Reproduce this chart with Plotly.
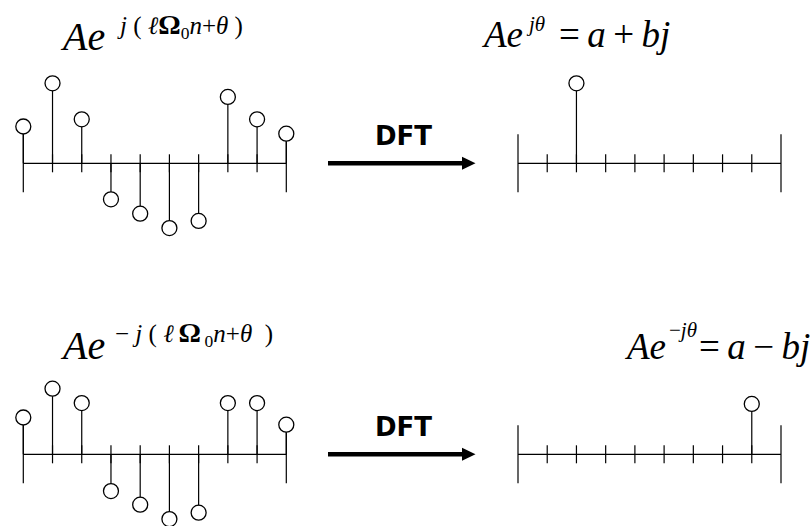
import plotly.graph_objects as go

# ---- data -------------------------------------------------------------
n = list(range(10))
# x[n] = A e^{ j(l*W0*n + theta)}  (real part shown as stems)
x_pos = [0.46, 1.00, 0.55, -0.45, -0.63, -0.81, -0.72, 0.83, 0.55, 0.37]
# x[n] = A e^{-j(l*W0*n + theta)}
x_neg = [0.46, 0.82, 0.64, -0.46, -0.63, -0.81, -0.73, 0.64, 0.64, 0.37]
# DFT results: a single non-zero bin each
X_pos = [0, 0, 1.00, 0, 0, 0, 0, 0, 0, 0]
X_neg = [0, 0, 0, 0, 0, 0, 0, 0, 0.63, 0]

# ---- page geometry (pixels) ------------------------------------------
W, H = 812, 526
STEP = 263 / 9          # px between samples
UNIT = 80               # px per amplitude unit
LEFT_X0, RIGHT_X0 = 23.3, 518.0
TOP_Y0, BOT_Y0 = 163.3, 454.3
TICK_IN, TICK_END = 9, 29  # tick half-lengths in px

def xrange_for(x0):
    return [(0 - x0) / STEP, (W - x0) / STEP]

def yrange_for(y0):
    return [(y0 - H) / UNIT, (y0 - 0) / UNIT]

def px(x):
    return x / W

def py(y):
    return 1 - y / H

fig = go.Figure()

def stem_panel(vals, xa, ya):
    N = len(vals)
    # baseline
    fig.add_trace(go.Scatter(x=[0, N - 1], y=[0, 0], mode="lines",
                             line=dict(color="black", width=1.2),
                             xaxis=xa, yaxis=ya, hoverinfo="skip"))
    # ticks
    tx, ty = [], []
    for i in range(N):
        h = (TICK_END if i in (0, N - 1) else TICK_IN) / UNIT
        tx += [i, i, None]
        ty += [-h, h, None]
    fig.add_trace(go.Scatter(x=tx, y=ty, mode="lines",
                             line=dict(color="black", width=1.2),
                             xaxis=xa, yaxis=ya, hoverinfo="skip"))
    # stems
    sx, sy, mx, my = [], [], [], []
    for i, v in enumerate(vals):
        if v == 0:
            continue
        sx += [i, i, None]
        sy += [0, v, None]
        mx.append(i)
        my.append(v)
    fig.add_trace(go.Scatter(x=sx, y=sy, mode="lines",
                             line=dict(color="black", width=1.2),
                             xaxis=xa, yaxis=ya, hoverinfo="skip"))
    fig.add_trace(go.Scatter(x=mx, y=my, mode="markers",
                             marker=dict(symbol="circle", size=15, color="white",
                                         line=dict(color="black", width=1.3)),
                             xaxis=xa, yaxis=ya, hoverinfo="skip"))

stem_panel(x_pos, "x", "y")
stem_panel(X_pos, "x2", "y")
stem_panel(x_neg, "x", "y2")
stem_panel(X_neg, "x2", "y2")

# ---- arrows labelled DFT ---------------------------------------------
shapes = []
annotations = []
for y0 in (TOP_Y0, BOT_Y0):
    shapes.append(dict(type="line", xref="paper", yref="paper",
                       x0=px(328), x1=px(465), y0=py(y0), y1=py(y0),
                       line=dict(color="black", width=4.5)))
    shapes.append(dict(type="path", xref="paper", yref="paper",
                       path=f"M {px(462)},{py(y0 - 6.5)} L {px(475.5)},{py(y0)} "
                            f"L {px(462)},{py(y0 + 6.5)} Z",
                       fillcolor="black", line=dict(color="black", width=0)))
    annotations.append(dict(text="<b>DFT</b>", xref="paper", yref="paper",
                            x=px(403), y=py(y0 - 27), xanchor="center", yanchor="middle",
                            showarrow=False,
                            font=dict(family="DejaVu Sans", size=26, color="black")))

SERIF = "Liberation Serif"
SP = "\u00a0"      # non-breaking space keeps wide gaps intact
TH = "\u2009"      # thin space
OMEGA = '<span style="font-size:28px"><b>Ω</b></span>'

def label(text, x, y, size, anchor="left"):
    annotations.append(dict(text=text, xref="paper", yref="paper",
                            x=px(x), y=py(y), xanchor=anchor, yanchor="middle",
                            showarrow=False,
                            font=dict(family=SERIF, size=size, color="black")))

# top-left: A e^{j(l W0 n + theta)}
label("<i>Ae</i>", 58, 36, 40)
label(f"<i>j</i>{SP}({SP}<i>ℓ</i>{OMEGA}<sub>0</sub><i>n</i>+<i>θ</i>{SP})", 115, 26, 25)
# top-right: A e^{j theta} = a + bj
label("<i>Ae</i>", 479, 35, 37)
label("<i>jθ</i>", 524, 24, 21)
label(f"={TH}<i>a</i>{TH}+{TH}<i>bj</i>", 557, 35, 37)
# bottom-left: A e^{-j(l W0 n + theta)}
label("<i>Ae</i>", 58, 345, 40)
label(f"−{SP}<i>j</i>{SP}({SP}<i>ℓ</i>{TH}{OMEGA}<sub>{TH}0</sub><i>n</i>+<i>θ</i>{SP}{SP})",
      113, 334, 25)
# bottom-right: A e^{-j theta} = a - bj
label("<i>Ae</i>", 622, 346, 37)
label("−<i>jθ</i>", 667, 330, 21)
label(f"={TH}<i>a</i>{TH}−{TH}<i>bj</i>", 697, 346, 37)

axis_common = dict(visible=False, showgrid=False, zeroline=False, fixedrange=True)
fig.update_layout(
    width=W, height=H, autosize=False,
    margin=dict(l=0, r=0, t=0, b=0, pad=0),
    paper_bgcolor="white", plot_bgcolor="rgba(0,0,0,0)",
    showlegend=False,
    xaxis=dict(domain=[0, 1], range=xrange_for(LEFT_X0), anchor="y", **axis_common),
    xaxis2=dict(domain=[0, 1], range=xrange_for(RIGHT_X0), anchor="y", overlaying="x", **axis_common),
    yaxis=dict(domain=[0, 1], range=yrange_for(TOP_Y0), anchor="x", **axis_common),
    yaxis2=dict(domain=[0, 1], range=yrange_for(BOT_Y0), anchor="x", overlaying="y", **axis_common),
    shapes=shapes,
    annotations=annotations,
)

fig.write_html("out.html", config={"displayModeBar": False})
